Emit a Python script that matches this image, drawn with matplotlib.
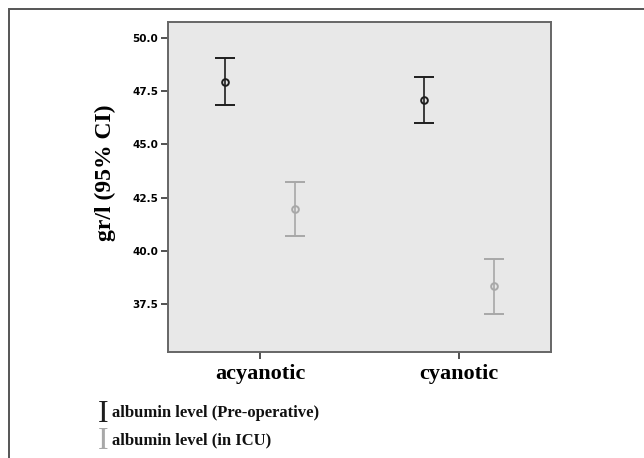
import numpy as np
import matplotlib
matplotlib.use("Agg")
import matplotlib.pyplot as plt
from matplotlib.patches import Rectangle

# values (means and 95% CI bounds, gr/l)
groups = ["acyanotic", "cyanotic"]
series = ["albumin level (Pre-operative)", "albumin level (in ICU)"]
means_pre = [47.92, 47.08]
low_pre = [46.84, 46.00]
high_pre = [49.06, 48.16]
means_icu = [41.98, 38.35]
low_icu = [40.71, 37.03]
high_icu = [43.25, 39.62]
yticks = [37.5, 40.0, 42.5, 45.0, 47.5, 50.0]

colors = ["#1e1e1e", "#a8a8a8"]
offset = 0.178

fig = plt.figure(figsize=(6.44, 4.58), dpi=100)
fig.patch.set_facecolor("white")

# outer frame (only top and left edges are inside the picture)
fig.add_artist(Rectangle((9 / 644, -0.1), 1.2, (458 - 8.5) / 458 + 0.1,
                         transform=fig.transFigure, fill=False,
                         edgecolor="#555555", linewidth=1.4))

ax = fig.add_axes([168 / 644, (458 - 352) / 458, 383 / 644, 330 / 458])
ax.set_facecolor("#e8e8e8")

x = np.arange(len(groups))
for i, (m, lo, hi) in enumerate([(means_pre, low_pre, high_pre),
                                 (means_icu, low_icu, high_icu)]):
    m = np.array(m)
    err = np.vstack([m - np.array(lo), np.array(hi) - m])
    xs = x + (-offset if i == 0 else offset)
    ax.errorbar(xs, m, yerr=err, fmt="o", color=colors[i], ecolor=colors[i],
                markerfacecolor="none", markeredgecolor=colors[i],
                markersize=4.8, markeredgewidth=1.4, elinewidth=1.2,
                capsize=7, capthick=1.2)

ax.set_xlim(-0.462, 1.462)
ax.set_ylim(35.24, 50.75)
ax.set_yticks(yticks)
ax.set_yticklabels(["%.1f" % v for v in yticks], fontsize=7.5,
                   fontweight="bold", family="DejaVu Sans")
ax.set_xticks(x)
ax.set_xticklabels(groups, fontsize=16, fontweight="bold",
                   family="Liberation Serif")
ax.tick_params(axis="y", direction="out", length=5, width=1.2, color="#333333", pad=2)
ax.tick_params(axis="x", direction="out", length=5, width=1.2, color="#333333", pad=4)
for s in ax.spines.values():
    s.set_color("#666666")
    s.set_linewidth(1.4)

# y label sits a little above the axes centre in the reference
fig.text(105 / 644, (458 - 173) / 458, "gr/l (95% CI)", rotation=90,
         fontsize=17, fontweight="bold", family="Liberation Serif",
         ha="center", va="center")

# legend drawn as text lines below the axes
for i, label in enumerate(series):
    yy = (458 - 413 - i * 27.5) / 458
    fig.text(98 / 644, yy - 1 / 458, "I", color=colors[i], fontsize=23,
             family="Liberation Serif", va="center", ha="left")
    fig.text(112 / 644, yy, label, color="#111111", fontsize=12,
             fontweight="bold", family="Liberation Serif", va="center", ha="left")

fig.savefig("out.png", dpi=100)
